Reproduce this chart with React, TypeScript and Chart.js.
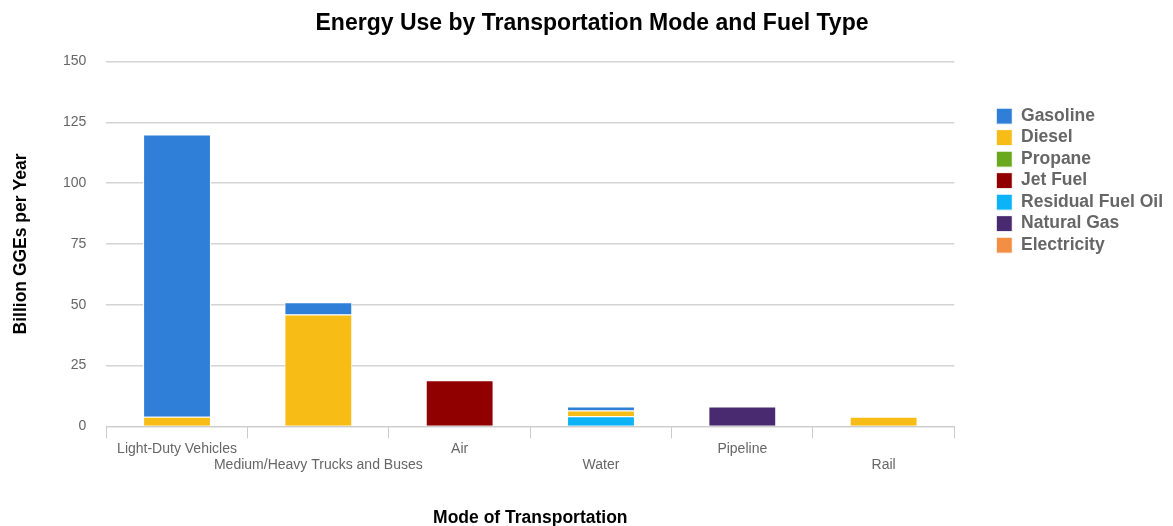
import React, { useEffect, useRef } from "react";
import { Chart, registerables } from "chart.js";

Chart.register(...registerables);

const categories: (string | string[])[] = [
  "Light-Duty Vehicles",
  ["", "Medium/Heavy Trucks and Buses"],
  "Air",
  ["", "Water"],
  "Pipeline",
  ["", "Rail"],
];

const fuels = ["Gasoline", "Diesel", "Propane", "Jet Fuel", "Residual Fuel Oil", "Natural Gas", "Electricity"];
const colors = ["#2f7ed8", "#f8bc17", "#6aa91e", "#910000", "#0cb3f6", "#492970", "#f28f43"];

const residualFuelOil = [0, 0, 0, 4.2, 0, 0];
const diesel = [4, 46, 0, 2.3, 0, 4];
const gasoline = [116, 5, 0, 1.7, 0, 0];
const propane = [0, 0, 0, 0, 0, 0];
const jetFuel = [0, 0, 19, 0, 0, 0];
const naturalGas = [0, 0, 0, 0, 8.2, 0];
const electricity = [0, 0, 0, 0, 0, 0];

const yTicks = [0, 25, 50, 75, 100, 125, 150];

const FONT = "'Liberation Sans', Arial, sans-serif";

export default function App() {
  const ref = useRef<HTMLCanvasElement>(null);
  useEffect(() => {
    document.body.style.margin = "0";
    const seriesByFuel: Record<string, number[]> = {
      Gasoline: gasoline,
      Diesel: diesel,
      Propane: propane,
      "Jet Fuel": jetFuel,
      "Residual Fuel Oil": residualFuelOil,
      "Natural Gas": naturalGas,
      Electricity: electricity,
    };
    // stacking order: residual fuel oil at bottom, then diesel, then gasoline
    const order = [4, 1, 0, 2, 3, 5, 6];
    const datasets = fuels.map((f, i) => ({
      label: f,
      data: seriesByFuel[f],
      backgroundColor: colors[i],
      borderColor: "#ffffff",
      borderWidth: 1,
      order: order.indexOf(i),
      stack: "s",
      yAxisID: "y",
    }));
    const chart = new Chart(ref.current!, {
      type: "bar",
      data: { labels: categories as any, datasets: datasets as any },
      options: {
        animation: false,
        responsive: false,
        maintainAspectRatio: false,
        datasets: { bar: { barPercentage: 0.48, categoryPercentage: 1 } },
        layout: { padding: { left: 11, right: 0, top: 6, bottom: -3 } },
        plugins: {
          title: {
            display: true,
            text: "Energy Use by Transportation Mode and Fuel Type",
            color: "#000",
            font: { family: FONT, size: 23, weight: "bold" },
            padding: { top: 4, bottom: 24 },
          },
          legend: {
            position: "right",
            align: "start",
            title: { display: true, text: "", padding: { top: 83, bottom: 0 } },
            labels: {
              boxWidth: 16,
              boxHeight: 16,
              padding: 4,
              color: "#666",
              font: { family: FONT, size: 17.5, weight: "bold" },
              sort: (a: any, b: any) => a.datasetIndex - b.datasetIndex,
            },
          },
          tooltip: { enabled: false },
        },
        scales: {
          x: {
            stacked: true,
            grid: {
              offset: true,
              drawOnChartArea: false,
              drawTicks: true,
              tickLength: 12,
              color: "#ccc",
            },
            border: { display: true, color: "#ccc", width: 1 },
            ticks: {
              autoSkip: false,
              maxRotation: 0,
              minRotation: 0,
              color: "#666",
              padding: 2,
              font: { family: FONT, size: 14 },
            },
            title: {
              display: true,
              text: "Mode of Transportation",
              color: "#000",
              font: { family: FONT, size: 17.5, weight: "bold" },
              padding: { top: 32, bottom: 0 },
            },
          },
          y: {
            stacked: true,
            min: 0,
            max: 150,
            afterBuildTicks: (axis: any) => {
              axis.ticks = yTicks.map((v) => ({ value: v }));
            },
            grid: { color: "#d4d4d4", lineWidth: 1.5, drawTicks: false },
            border: { display: false },
            ticks: {
              color: "#666",
              padding: 20,
              font: { family: FONT, size: 14 },
            },
            title: {
              display: true,
              text: "Billion GGEs per Year",
              color: "#000",
              font: { family: FONT, size: 17.5, weight: "bold" },
              padding: { top: 0, bottom: 11 },
            },
          },
          spacer: {
            type: "linear",
            position: "right",
            display: true,
            grid: { display: false, drawTicks: false },
            border: { display: false },
            ticks: { display: false },
            afterFit: (scale: any) => {
              scale.width = 38;
            },
          },
        },
      },
    });
    return () => chart.destroy();
  }, []);
  return (
    <div style={{ width: 1173, height: 526, background: "#fff" }}>
      <canvas ref={ref} width={1173} height={526} style={{ width: 1173, height: 526 }} />
    </div>
  );
}
